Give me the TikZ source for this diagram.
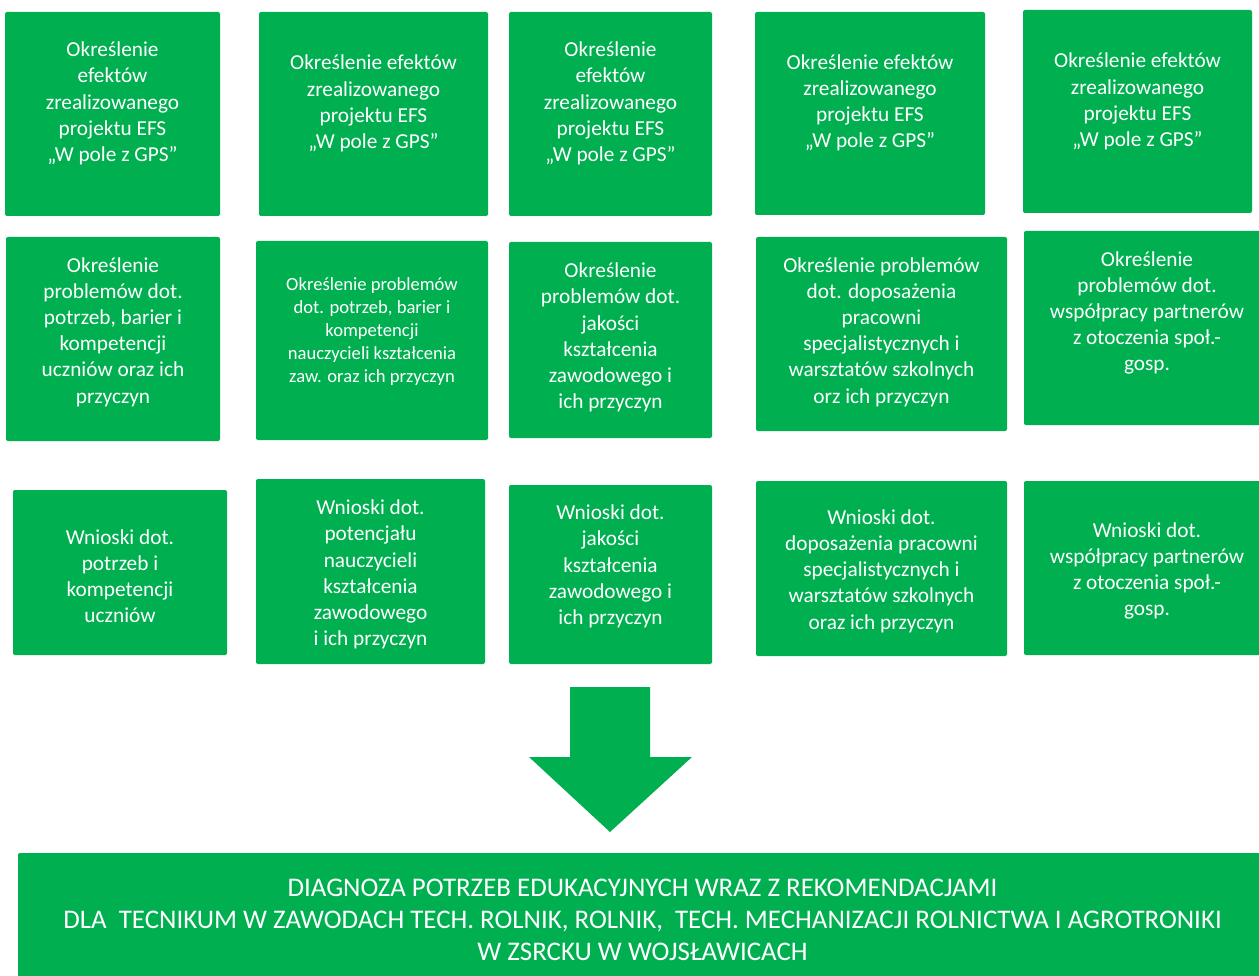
\documentclass[tikz,border=0pt]{standalone}
\usepackage{fontspec}
\setmainfont{Carlito}
\definecolor{gr}{RGB}{0,176,80}
\begin{document}
\begin{tikzpicture}[x=1pt,y=-1pt,
  gbox/.style={fill=gr,draw=none,rounded corners=2pt},
  txt/.style={text=white,align=center,inner sep=0pt,font=\fontsize{21.3}{26.2}\selectfont},
  txts/.style={text=white,align=center,inner sep=0pt,font=\fontsize{18.6}{23}\selectfont},
  txtb/.style={text=white,align=center,inner sep=0pt,font=\fontsize{26.9}{32}\selectfont}]
\useasboundingbox (0,0) rectangle (1259,976);
% row 1
\draw[gbox] (5,12) rectangle (220,216);
\draw[gbox] (259,12) rectangle (488,216);
\draw[gbox] (509,12) rectangle (712,216);
\draw[gbox] (755,12) rectangle (985,215);
\draw[gbox] (1023,10) rectangle (1252,213);
% row 2
\draw[gbox] (6,237) rectangle (220,441);
\draw[gbox] (256,241) rectangle (488,440);
\draw[gbox] (509,242) rectangle (712,438);
\draw[gbox] (756,237) rectangle (1007,431);
\draw[gbox] (1024,231) rectangle (1265,425);
% row 3
\draw[gbox] (13,490) rectangle (227,655);
\draw[gbox] (256,479) rectangle (485,664);
\draw[gbox] (509,485) rectangle (712,664);
\draw[gbox] (756,481) rectangle (1007,656);
\draw[gbox] (1024,481) rectangle (1265,655);
% bottom
\draw[gbox] (18,853) rectangle (1265,990);
% arrow
\fill[gr] (570,687) -- (650,687) -- (650,757) -- (692,757) -- (610,832) -- (529,757) -- (570,757) -- cycle;
% texts row 1
\node[txt] (t11) at (112.5,103.5) {Określenie\\efektów\\zrealizowanego\\projektu EFS\\„W pole z GPS”};
\node[txt] (t12) at (373.5,103.5) {Określenie efektów\\zrealizowanego\\projektu EFS\\„W pole z GPS”};
\node[txt] (t13) at (610.5,103.5) {Określenie\\efektów\\zrealizowanego\\projektu EFS\\„W pole z GPS”};
\node[txt] (t14) at (870,103) {Określenie efektów\\zrealizowanego\\projektu EFS\\„W pole z GPS”};
\node[txt] (t15) at (1137.5,101.5) {Określenie efektów\\zrealizowanego\\projektu EFS\\„W pole z GPS”};
% texts row 2
\node[txt] (t21) at (113,332) {Określenie\\problemów dot.\\potrzeb, barier i\\kompetencji\\uczniów oraz ich\\przyczyn};
\node[txts] (t22) at (372,332) {Określenie problemów\\dot. potrzeb, barier i\\kompetencji\\nauczycieli kształcenia\\zaw. oraz ich przyczyn};
\node[txt] (t23) at (610.5,337.5) {Określenie\\problemów dot.\\jakości\\kształcenia\\zawodowego i\\ich przyczyn};
\node[txt] (t24) at (881.5,332) {Określenie problemów\\dot. doposażenia\\pracowni\\specjalistycznych i\\warsztatów szkolnych\\orz ich przyczyn};
\node[txt] (t25) at (1147,313) {Określenie\\problemów dot.\\współpracy partnerów\\z otoczenia społ.-\\gosp.};
% texts row 3
\node[txt] (t31) at (120,576) {Wnioski dot.\\potrzeb i\\kompetencji\\uczniów};
\node[txt] (t32) at (370.5,574.5) {Wnioski dot.\\potencjału\\nauczycieli\\kształcenia\\zawodowego\\i ich przyczyn};
\node[txt] (t33) at (610.5,566.5) {Wnioski dot.\\jakości\\kształcenia\\zawodowego i\\ich przyczyn};
\node[txt] (t34) at (881.5,571) {Wnioski dot.\\doposażenia pracowni\\specjalistycznych i\\warsztatów szkolnych\\oraz ich przyczyn};
\node[txt] (t35) at (1147,571) {Wnioski dot.\\współpracy partnerów\\z otoczenia społ.-\\gosp.};
% bottom text
\node[txtb] (tb) at (642.5,919.5) {DIAGNOZA POTRZEB EDUKACYJNYCH WRAZ Z REKOMENDACJAMI\\DLA\ \ TECNIKUM W ZAWODACH TECH. ROLNIK, ROLNIK,\ \ TECH. MECHANIZACJI ROLNICTWA I AGROTRONIKI\\W ZSRCKU W WOJSŁAWICACH};
\end{tikzpicture}
\end{document}
